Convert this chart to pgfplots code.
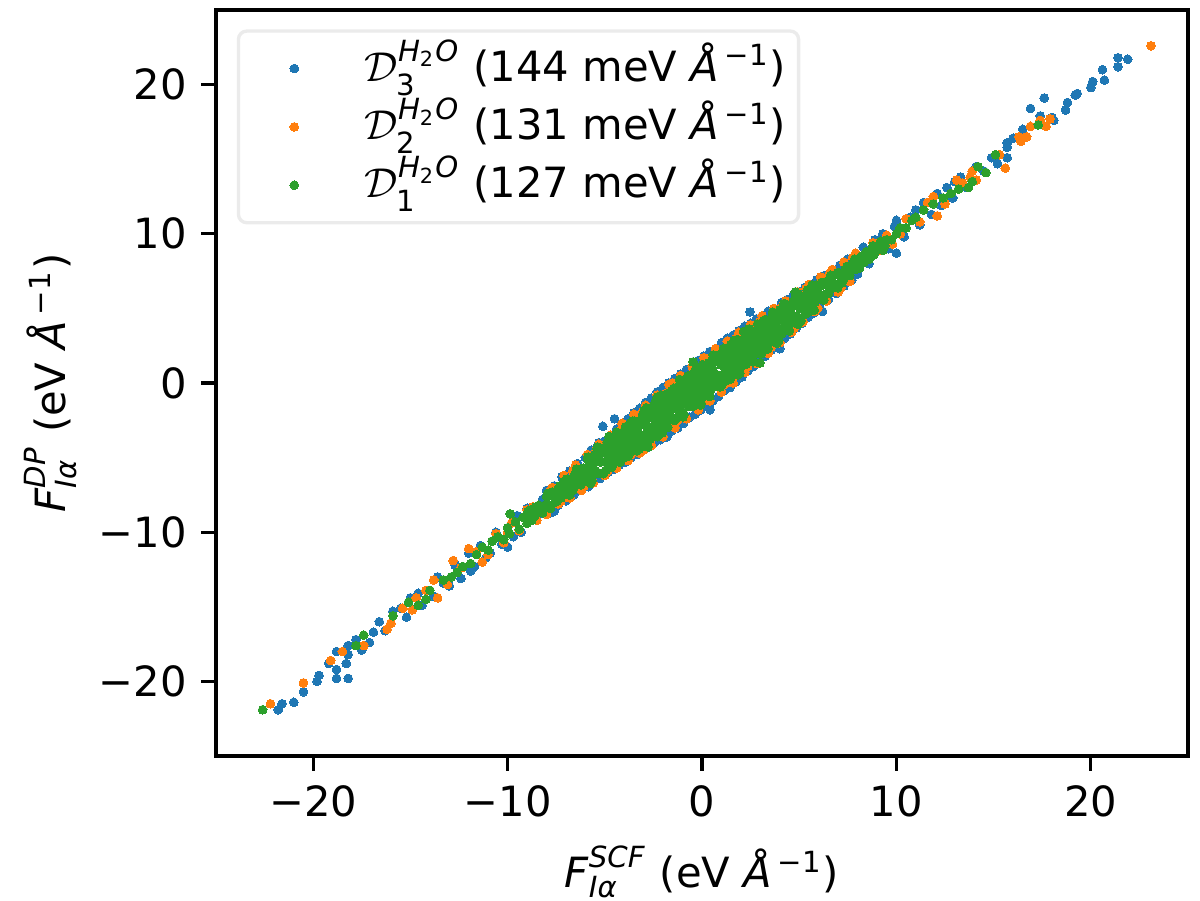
\documentclass[border=0pt]{standalone}
\usepackage{fontspec}
\setmainfont{DejaVu Sans}
\usepackage{amsmath}
\usepackage{pgfplots}
\pgfplotsset{compat=1.18}
\definecolor{cA}{HTML}{1F77B4}
\definecolor{cB}{HTML}{FF7F0E}
\definecolor{cC}{HTML}{2CA02C}
\newcommand{\unitlbl}{(eV \textit{Å}$^{\,\text{−1}}$)}
\begin{document}
\begin{tikzpicture}
\path[use as bounding box] (0,0) rectangle (288pt,216pt);
\begin{axis}[
  at={(51.84pt,34.56pt)}, anchor=south west,
  width=233.28pt, height=179.04pt, scale only axis,
  xmin=-25, xmax=25, ymin=-25, ymax=25,
  xtick={-20,-10,0,10,20}, xticklabels={−20,−10,0,10,20},
  ytick={-20,-10,0,10,20}, yticklabels={−20,−10,0,10,20},
  tick align=outside, tick pos=left,
  major tick length=3.5pt,
  axis line style={line width=0.8pt},
  every tick/.style={black, line width=0.8pt},
  tick label style={font=\fontsize{10}{12}\selectfont},
  label style={font=\fontsize{10}{12}\selectfont},
  xlabel={$\textit{F}^{\textit{SCF}}_{\textit{Iα}}$ \unitlbl},
  ylabel={$\textit{F}^{\textit{DP}}_{\textit{Iα}}$ \unitlbl},
  ylabel style={yshift=-1.5pt},
  legend cell align=left,
  legend style={at={(axis description cs:0.0214,0.974)}, anchor=north west,
    draw=black!8, line width=0.8pt, rounded corners=2pt, fill=white,
    font=\fontsize{10}{12}\selectfont, inner xsep=2pt, inner ysep=2pt,
    row sep=0pt, nodes={inner sep=1pt, text height=9pt, text depth=3pt}},
  legend image code/.code={\path (-11pt,0pt) (15.5pt,0pt); \draw[#1] plot coordinates {(0pt,0pt)};},
  every axis plot/.append style={only marks, mark=*, mark size=1.05pt},
]
\addplot[cA, mark options={fill=cA, draw=cA, line width=0pt}] coordinates {
(-8.0,-7.2)(-7.8,-8.7)(-7.6,-6.9)(-7.4,-8.2)(-7.2,-6.3)(-7.0,-7.9)(-6.8,-5.9)(-6.6,-7.5)(-6.4,-5.4)(-6.2,-7.1)
(-6.0,-5.0)(-5.85,-6.95)(-5.7,-4.6)(-5.55,-6.6)(-5.4,-4.3)(-5.25,-6.4)(-5.1,-2.9)(-5.0,-3.9)(-4.85,-6.0)(-4.7,-3.5)
(-4.5,-2.4)(-4.55,-5.8)(-4.4,-3.1)(-4.25,-5.5)(-4.1,-2.8)(-3.95,-5.3)(-3.8,-2.4)(-3.65,-5.0)(-3.5,-2.0)(-3.35,-4.8)
(-3.2,-1.7)(-3.05,-4.5)(-2.9,-1.3)(-2.75,-4.3)(-2.6,-1.0)(-2.45,-4.0)(-2.3,-0.6)(-2.15,-3.8)(-2.0,-0.3)(-1.85,-3.6)
(-1.7,0.0)(-1.55,-3.2)(-1.4,0.3)(-1.25,-3.0)(-1.1,0.6)(-0.95,-2.7)(-0.8,0.9)(-0.65,-2.3)(-0.5,1.1)(-0.35,-2.1)
(-0.2,1.5)(-0.05,-1.8)(0.1,1.8)(0.25,-1.5)(0.41,-1.8)(0.4,2.1)(0.55,-1.2)(0.7,2.3)(0.85,-0.9)(1.0,2.7)
(1.15,-0.5)(1.3,3.0)(1.45,-0.3)(1.6,3.2)(1.75,0.1)(1.9,3.5)(2.05,0.4)(2.2,3.8)(2.35,0.8)(2.47,4.76)
(2.5,4.0)(2.65,1.1)(2.8,4.3)(2.95,1.5)(3.1,4.5)(3.25,1.8)(3.4,4.8)(3.55,2.2)(3.7,5.0)(3.85,2.5)
(4.0,2.3)(4.1,5.4)(4.25,3.0)(4.4,5.6)(4.55,3.3)(4.7,5.9)(4.85,3.7)(5.0,6.1)(5.15,4.0)(5.3,6.4)
(5.45,4.4)(5.6,6.6)(5.75,4.7)(5.9,6.9)(6.05,5.1)(6.2,4.8)(6.3,7.2)(6.5,5.6)(6.7,7.6)(6.9,6.0)
(7.1,7.9)(7.3,6.5)(7.5,8.3)(7.7,6.9)(7.9,8.6)(-5.3,-4.0)(-5.7,-4.5)(-1.8,-3.6)
(-8.8,-9.2)(-8.2,-7.8)(-9.7,-10.3)(-10.0,-11.0)(-11.1,-11.7)(-12.4,-13.1)(-13.3,-13.4)(-14.0,-13.9)(-15.0,-14.4)(-15.2,-15.7)
(-15.9,-15.3)(-16.9,-16.7)(-17.1,-17.4)(-18.2,-17.6)(-18.8,-18.0)(-18.2,-18.2)(-18.3,-18.8)(-19.2,-18.8)(-18.8,-19.2)(-18.8,-19.8)
(-18.2,-19.8)(-19.7,-19.6)(-19.8,-20.0)(-20.5,-20.7)(-21.0,-21.4)(-21.6,-21.5)(-21.8,-21.9)
(-8.5,-9.0)(-9.0,-8.4)(-9.3,-10.0)(-9.5,-8.9)(-10.3,-10.8)(-10.6,-10.0)(-10.9,-11.4)(-11.4,-10.9)(-11.7,-12.3)(-12.0,-11.4)
(-12.7,-12.2)(-13.0,-13.6)(-13.6,-13.0)(-14.4,-14.9)(-14.6,-14.1)(-15.5,-15.1)(-16.3,-16.6)(-16.6,-16.0)(-17.5,-17.9)(-17.8,-17.2)
(-13.8,-14.3)(-11.9,-12.6)(-7.6,-8.6)
(8.3,9.1)(7.8,8.4)(9.3,10.0)(10.0,8.7)(10.0,10.9)(10.7,11.1)(11.4,12.1)(12.1,12.7)(12.6,13.1)(13.3,13.8)
(14.1,14.5)(15.2,14.7)(15.7,15.1)(14.9,15.1)(15.7,15.8)(15.7,16.1)(16.0,16.4)(16.5,17.0)(17.4,17.9)(18.1,17.6)
(18.0,17.8)(18.7,18.3)(18.8,18.8)(16.9,18.4)(17.6,19.1)(19.2,19.3)(19.3,19.4)(20.0,19.8)(20.1,20.2)(20.7,20.3)
(20.6,21.0)(21.4,21.2)(21.9,21.7)(21.4,21.8)
(8.6,8.0)(8.9,9.6)(9.6,9.0)(9.9,10.5)(10.4,9.8)(11.0,11.6)(11.2,10.6)(11.8,11.3)(12.3,11.9)(12.9,12.4)
(13.6,13.1)(8.0,7.3)(14.5,14.2)(13.0,13.5)
};
\addlegendentry{$\mathcal{D}^{\textit{H}_{\text{2}}\textit{O}}_{\text{3}}$ (144 meV \textit{Å}$^{\,\text{−1}}$)}
\addplot[cB, mark options={fill=cB, draw=cB, line width=0pt}] coordinates {
(-8.0,-8.8)(-7.7,-7.0)(-7.4,-8.1)(-7.1,-6.2)(-6.8,-7.7)(-6.5,-5.5)(-6.2,-7.2)(-5.9,-4.8)(-5.6,-6.7)(-5.3,-4.1)
(-5.0,-6.2)(-4.7,-3.5)(-4.4,-5.7)(-4.1,-2.8)(-3.8,-5.2)(-3.5,-2.1)(-3.2,-4.7)(-2.9,-1.5)(-2.6,-4.2)(-2.3,-0.8)
(-2.0,-3.6)(-1.7,-0.1)(-1.4,-3.0)(-1.1,0.5)(-0.8,-2.4)(-0.5,1.1)(-0.2,-1.8)(0.1,1.7)(0.4,-1.2)(0.7,2.3)
(1.0,-0.6)(1.3,2.8)(1.6,0.0)(1.9,3.4)(2.2,0.7)(2.5,3.9)(2.8,1.3)(3.1,4.5)(3.4,2.0)(3.7,5.0)
(4.0,2.7)(4.3,5.5)(4.6,3.4)(4.9,6.1)(5.2,4.1)(5.5,6.6)(5.8,4.8)(6.1,7.1)(6.4,5.5)(6.7,7.6)
(7.0,6.1)(7.3,8.1)(7.6,6.8)(7.9,8.7)
(-7.85,-7.3)(-7.25,-7.9)(-6.65,-5.9)(-6.05,-6.9)(-5.45,-4.5)(-4.85,-5.9)(-4.25,-3.2)(-3.65,-4.8)(-3.05,-1.9)(-2.45,-3.6)
(-1.85,-0.7)(-1.25,-2.5)(-0.65,0.5)(-0.05,-1.3)(0.55,1.8)(1.15,-0.1)(1.75,3.0)(2.35,1.1)(2.95,4.1)(3.55,2.4)
(4.15,5.2)(4.75,3.7)(5.35,6.3)(5.95,5.0)(6.55,7.3)(7.15,6.4)(7.75,8.4)
(-3.0,-4.5)(2.1,0.7)(-1.5,0.0)(-4.1,-2.7)
(-22.2,-21.5)(-20.5,-20.1)(-19.1,-18.6)(-18.5,-18.0)(-17.4,-17.6)(-16.2,-16.5)(-16.0,-16.1)(-15.4,-15.1)(-14.9,-15.2)(-14.7,-14.4)
(-14.2,-13.9)(-13.8,-13.2)(-13.6,-14.4)(-12.8,-11.9)(-12.4,-12.4)(-12.0,-11.1)(-11.6,-11.3)(-8.5,-9.2)
(-11.0,-11.5)(-10.6,-10.1)(-10.2,-10.7)(-9.8,-9.4)(-9.4,-9.9)(-9.0,-8.5)(-8.7,-8.3)(-11.3,-12.0)(-10.0,-10.0)(-13.1,-13.5)
(8.1,7.8)(8.5,8.7)(9.2,8.9)(10.2,10.0)(10.8,10.9)(11.6,12.1)(12.1,11.2)(12.8,12.7)(13.4,13.4)(14.1,13.6)
(13.8,13.8)(13.9,14.2)(15.3,15.3)(15.6,14.4)(16.4,16.2)(16.7,16.5)(16.3,16.5)(16.9,17.2)(17.7,17.2)(17.4,17.6)
(17.9,17.7)(23.1,22.6)
(8.8,9.4)(9.5,9.9)(9.8,9.3)(10.5,11.0)(11.2,10.8)(11.9,12.5)(12.5,12.0)(13.1,13.6)
};
\addlegendentry{$\mathcal{D}^{\textit{H}_{\text{2}}\textit{O}}_{\text{2}}$ (131 meV \textit{Å}$^{\,\text{−1}}$)}
\addplot[cC, mark options={fill=cC, draw=cC, line width=0pt}] coordinates {
(-6.00,-5.70)(-5.93,-6.53)(-5.88,-5.08)(-5.80,-6.00)(-5.74,-5.24)(-5.66,-6.56)(-5.61,-5.51)(-5.55,-4.85)(-5.47,-5.87)(-5.40,-4.40)
(-5.35,-6.05)(-5.28,-5.08)(-5.20,-5.30)(-5.14,-4.54)(-5.08,-6.08)(-5.01,-4.61)(-4.95,-5.25)(-4.88,-3.98)(-4.80,-5.40)(-4.74,-4.74)
(-4.67,-3.97)(-4.60,-5.50)(-4.55,-4.25)(-4.47,-4.67)(-4.40,-3.30)(-4.34,-4.84)(-4.28,-3.78)(-4.21,-5.31)(-4.15,-3.95)(-4.08,-4.48)
(-4.00,-3.20)(-3.94,-4.64)(-3.88,-3.88)(-3.81,-3.21)(-3.75,-4.75)(-3.68,-3.28)(-3.62,-3.92)(-3.55,-2.55)(-3.48,-4.08)(-3.42,-3.22)
(-3.35,-3.45)(-3.29,-2.59)(-3.22,-4.42)(-3.16,-2.66)(-3.10,-3.50)(-3.04,-2.14)
(-2.98,-3.78)(-2.92,-2.82)(-2.86,-1.66)(-2.80,-3.10)(-2.73,-2.13)(-2.67,-3.77)(-2.61,-2.31)(-2.55,-3.05)(-2.49,-1.49)(-2.42,-2.52)
(-2.36,-1.66)(-2.30,-3.60)(-2.24,-1.84)(-2.18,-2.88)(-2.12,-0.82)(-2.06,-2.06)(-2.00,-2.90)(-1.94,-1.14)(-1.88,-2.28)(-1.82,-1.62)
(-1.76,-2.96)(-1.70,-0.80)(-1.64,-1.84)(-1.58,-1.08)(-1.52,-2.32)(-1.46,-0.36)(-1.40,-1.30)(-1.34,-2.34)(-1.28,-0.68)(-1.22,-1.72)
(-1.16,0.24)(-1.10,-1.30)(-1.04,-0.74)(-0.98,-2.28)(-0.92,-0.12)(-0.86,-1.46)(-0.80,-0.80)(-0.74,0.46)(-0.68,-1.58)(-0.62,-0.22)
(-0.56,-0.86)(-0.50,0.50)(-0.44,-1.54)(-0.38,0.22)(-0.32,-0.42)(-0.26,1.04)(-0.20,-0.90)(-0.14,0.06)(-0.08,-1.48)(-0.02,0.68)
(0.04,-0.36)(0.10,1.20)(0.16,-0.84)(0.22,0.52)(0.28,0.08)(0.34,1.24)(0.40,-0.90)(0.46,0.96)(0.52,-0.08)(0.58,1.88)
(0.64,0.64)(0.70,-0.20)(0.76,1.46)(0.82,0.52)(0.88,1.88)(0.94,-0.26)(1.00,1.20)(1.06,0.56)(1.12,2.32)(1.18,1.08)
(1.24,1.84)(1.30,0.20)(1.36,1.76)(1.42,0.72)(1.48,2.58)(1.54,1.54)(1.60,0.60)(1.66,2.46)(1.72,1.32)(1.78,2.08)
(1.84,0.54)(1.90,2.80)(1.96,1.76)(2.02,2.52)(2.08,1.28)(2.14,3.44)(2.20,2.30)(2.26,1.26)(2.32,3.02)(2.38,1.88)
(2.44,3.44)(2.50,2.40)(2.56,2.96)(2.62,1.42)(2.68,3.48)(2.74,2.14)(2.80,3.00)(2.86,3.96)(2.92,2.02)(2.98,2.98)
(3.04,3.64)(3.10,2.70)(3.17,4.17)(3.23,2.23)(3.30,3.60)(3.36,3.16)(3.43,4.23)(3.49,2.79)(3.56,3.66)(3.62,4.72)
(3.69,3.19)(3.75,4.25)(3.82,2.72)(3.88,4.08)(3.95,3.65)(4.01,4.91)(4.08,3.28)(4.14,4.54)(4.21,4.21)(4.28,5.28)
(4.34,3.74)(4.41,5.01)(4.48,3.48)(4.54,4.74)(4.61,4.41)(4.68,5.48)(4.75,4.05)(4.81,5.21)(4.88,4.48)(4.95,5.95)
(5.02,5.02)(5.09,4.19)(5.16,5.76)(5.23,4.93)(5.30,5.60)(5.37,4.67)(5.44,6.24)(5.51,5.41)(5.58,6.08)(5.65,4.85)
(5.72,5.92)(5.80,5.40)(5.87,6.57)(5.94,5.74)
(-4.50,-3.90)(-4.30,-5.10)(-4.10,-3.80)(-3.90,-4.20)(-3.70,-2.80)(-3.50,-4.30)(-3.30,-3.00)(-3.10,-3.70)(-2.90,-2.40)(-2.70,-1.80)
(-2.50,-3.40)(-2.30,-2.10)(-2.10,-2.50)(-1.90,-0.80)(-1.70,-2.40)(-1.50,-1.20)(-1.30,-0.30)(-1.10,-2.00)(-0.90,-0.50)(-0.70,-1.10)
(-0.50,0.30)(-0.30,-1.30)(-0.10,0.40)(0.10,-0.50)(0.30,0.50)(0.50,1.50)(0.70,0.20)(0.90,1.40)(1.10,0.20)(1.30,2.20)
(1.50,1.10)(1.70,2.10)(1.90,1.00)(2.10,2.70)(2.30,2.00)(2.50,3.50)(2.70,1.90)(2.90,3.30)(3.10,3.90)(3.30,2.70)
(3.50,4.00)(3.70,3.50)(3.90,4.60)(4.10,3.50)(4.30,4.60)(4.50,4.20)
(4.8,6.1)(2.98,1.34)(-2.78,-4.29)(-2.3,-0.94)(-0.46,1.41)
(-6.94,-6.44)(-6.82,-7.52)(-6.70,-6.40)(-6.58,-6.98)(-6.46,-5.76)(-6.34,-6.24)(-6.22,-6.82)(-6.10,-5.70)(-5.98,-6.18)(-5.86,-4.96)
(-5.74,-6.74)(-5.62,-5.12)(-5.50,-6.10)(-5.38,-4.28)(-5.26,-5.16)(-5.14,-6.04)(-5.02,-4.32)(-4.90,-5.30)(-4.78,-3.58)(-4.66,-5.66)
(-4.54,-4.24)(-4.42,-4.42)(-4.30,-5.00)(-4.18,-3.38)(-4.06,-4.36)(-3.94,-2.94)(-3.82,-4.92)(-3.70,-3.30)(-3.58,-3.78)(-3.46,-2.56)
(-3.34,-4.54)(-3.22,-2.72)(-3.10,-3.90)(-2.98,-1.88)(-2.86,-2.76)(-2.74,-3.64)(-2.62,-1.92)(-2.50,-2.90)(-2.38,-1.18)(-2.26,-3.26)
(-2.14,-1.84)(-2.02,-2.02)(-1.90,-2.60)(-1.78,-0.98)(-1.66,-1.96)(-1.54,-0.54)(-1.42,-2.52)(-1.30,-0.90)(-1.18,-1.38)(-1.06,-0.16)
(-0.94,-2.14)(-0.82,-0.32)(-0.70,-1.30)(-0.58,0.52)(-0.46,-0.36)(-0.34,-1.24)(-0.22,0.48)(-0.10,-0.50)(0.02,1.22)(0.14,-0.86)
(0.26,0.56)(0.38,0.38)(0.50,-0.20)(0.62,1.42)(0.74,0.44)(0.86,1.86)(0.98,-0.12)(1.10,1.50)(1.22,1.02)(1.34,2.24)
(1.46,0.26)(1.58,2.08)(1.70,1.10)(1.82,2.92)(1.94,2.04)(2.06,1.16)(2.18,2.88)(2.30,1.90)(2.42,3.62)(2.54,1.54)
(2.66,2.96)(2.78,2.78)(2.90,2.20)(3.02,3.82)(3.14,2.84)(3.26,4.26)(3.38,2.28)(3.50,3.90)(3.62,3.42)(3.74,4.64)
(3.86,2.66)(3.98,4.48)(4.10,3.30)(4.22,5.32)(4.34,4.44)(4.46,3.56)(4.58,5.28)(4.70,4.30)(4.82,5.92)(4.94,3.94)
(5.06,5.36)(5.18,5.18)(5.30,4.60)(5.42,6.22)(5.54,5.24)(5.66,6.56)(5.78,4.88)(5.90,6.30)(6.02,5.82)(6.14,6.74)
(6.26,5.56)(6.38,6.68)(6.50,6.00)(6.62,7.22)(6.74,6.64)(6.86,7.26)(6.98,6.38)(7.10,7.30)
(-5.05,-4.55)(-4.95,-5.85)(-4.85,-4.85)(-4.75,-4.05)(-4.65,-5.15)(-4.55,-4.35)(-4.45,-5.25)(-4.35,-3.35)(-4.25,-4.45)(-4.15,-3.65)
(-4.05,-5.05)(-3.95,-3.15)(-3.85,-4.45)(-3.75,-3.55)(-3.65,-2.65)(-3.55,-4.45)(-3.45,-3.05)(-3.35,-3.55)(-3.25,-2.55)(-3.15,-3.55)
(-3.05,-2.45)(-2.95,-4.05)(-2.85,-2.85)(-2.75,-1.85)(-2.65,-3.15)(-2.55,-2.25)(-2.45,-3.25)(-2.35,-1.15)(-2.25,-2.45)(-2.15,-1.65)
(-2.05,-3.35)(-1.95,-1.15)(-1.85,-2.45)(-1.75,-1.55)(-1.65,-0.65)(-1.55,-2.45)(-1.45,-1.05)(-1.35,-1.45)(-1.25,-0.55)(-1.15,-1.55)
(-1.05,-0.45)(-0.95,-2.05)(-0.85,-0.85)(-0.75,0.15)(-0.65,-1.15)(-0.55,-0.25)(-0.45,-1.25)(-0.35,0.85)(-0.25,-0.45)(-0.15,0.35)
(-0.05,-1.35)(0.05,0.85)(0.15,-0.45)(0.25,0.45)(0.35,1.35)(0.45,-0.45)(0.55,0.95)(0.65,0.55)(0.75,1.45)(0.85,0.45)
(0.95,1.55)(1.05,-0.05)(1.15,1.15)(1.25,2.15)(1.35,0.85)(1.45,1.75)(1.55,0.75)(1.65,2.85)(1.75,1.55)(1.85,2.35)
(1.95,0.65)(2.05,2.85)(2.15,1.55)(2.25,2.45)(2.35,3.35)(2.45,1.55)(2.55,2.95)(2.65,2.55)(2.75,3.45)(2.85,2.45)
(2.95,3.55)(3.05,1.95)(3.15,3.15)(3.25,4.15)(3.35,2.85)(3.45,3.75)(3.55,2.75)(3.65,4.75)(3.75,3.55)(3.85,4.35)
(3.95,2.85)(4.05,4.85)(4.15,3.55)(4.25,4.45)(4.35,5.25)(4.45,3.65)(4.55,4.95)(4.65,4.55)(4.75,5.45)(4.85,4.45)
(4.95,5.45)(5.05,4.15)
(-8.95,-8.6)(-8.75,-9.2)(-8.55,-8.3)(-8.3,-8.6)(-8.1,-8.2)(-7.95,-7.4)(-7.8,-8.4)(-7.62,-7.6)(-7.45,-7.9)(-7.3,-6.9)
(-7.15,-7.5)(-7.05,-6.6)(7.2,6.7)(7.35,7.6)(7.5,7.2)(7.7,7.7)(7.85,8.3)(8.1,7.7)(8.25,8.3)(8.45,8.8)
(8.6,8.3)(8.8,9.2)(9.1,9.1)(9.3,8.9)
(-11.9,-12.1)(-11.3,-11.0)(-10.8,-10.6)(-10.5,-10.3)(-10.2,-10.5)(-9.87,-8.77)(-9.9,-10.1)(-9.6,-9.3)(-9.4,-9.8)(-9.2,-9.0)
(-9.0,-9.4)(-8.8,-8.5)(-8.6,-8.9)(-8.4,-8.2)(-8.2,-8.7)(-8.0,-7.6)(-7.85,-8.2)(-7.7,-7.3)(-7.55,-8.0)(-7.4,-7.1)
(-7.25,-7.7)(-7.1,-6.6)(-6.95,-7.3)(-6.8,-6.5)(-6.65,-7.2)(-6.5,-6.0)(-6.35,-6.8)(-6.2,-5.8)(-6.1,-6.5)(-10.0,-9.7)
(-8.9,-9.1)(-7.0,-7.0)(-6.6,-6.3)
(-12.9,-13.0)(-13.3,-13.2)(-14.0,-13.9)(-14.2,-14.5)(-14.6,-14.9)(-15.1,-14.7)(-15.9,-15.6)(-17.4,-16.9)(-17.8,-17.6)(-22.6,-21.9)
(-12.3,-12.3)(-12.6,-12.7)(-11.6,-11.5)(-11.0,-11.2)
(6.1,6.5)(6.25,5.9)(6.4,6.8)(6.55,6.2)(6.7,7.1)(6.85,6.5)(7.0,7.4)(7.15,6.8)(7.3,7.0)(7.45,7.8)
(7.6,7.2)(7.75,8.0)(7.9,7.6)(8.0,8.0)(8.2,8.5)(8.35,8.1)(8.5,8.4)(8.7,8.9)(8.85,8.6)(9.0,8.9)
(9.2,9.5)(9.4,9.2)(9.5,9.6)(9.75,9.6)(10.0,10.0)(10.2,10.4)(10.5,10.4)(10.8,10.9)(11.0,11.1)(11.4,11.6)
(11.9,12.0)(12.4,12.4)(12.8,12.7)(13.2,13.0)(13.7,13.1)(13.9,13.5)(14.2,14.5)(14.6,14.1)(15.1,15.3)(17.3,17.3)
};
\addlegendentry{$\mathcal{D}^{\textit{H}_{\text{2}}\textit{O}}_{\text{1}}$ (127 meV \textit{Å}$^{\,\text{−1}}$)}
\end{axis}
\end{tikzpicture}
\end{document}
